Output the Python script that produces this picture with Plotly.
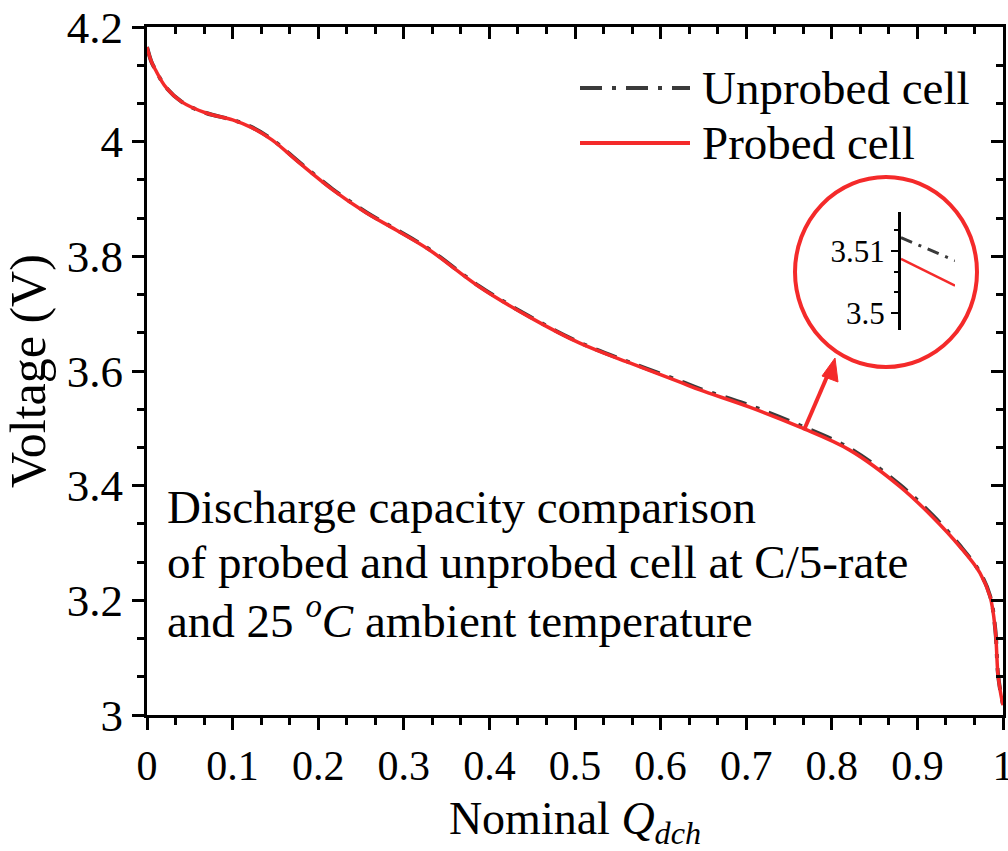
import plotly.graph_objects as go

# ---- data ----
q_probed = [0.0, 0.005, 0.01, 0.022, 0.041, 0.069, 0.1, 0.123, 0.146, 0.178, 0.217, 0.256,
            0.291, 0.33, 0.388, 0.447, 0.505, 0.564, 0.622, 0.646, 0.704, 0.763, 0.821,
            0.88, 0.918, 0.95, 0.973, 0.985, 0.991, 0.994, 0.997, 1.0]
v_probed = [4.165, 4.14, 4.125, 4.095, 4.069, 4.05, 4.038, 4.024, 4.003, 3.963, 3.916, 3.876,
            3.846, 3.811, 3.747, 3.694, 3.649, 3.614, 3.581, 3.567, 3.537, 3.502, 3.462,
            3.398, 3.345, 3.293, 3.248, 3.206, 3.148, 3.073, 3.04, 3.017]

q_unprobed = [0.0, 0.005, 0.01, 0.022, 0.041, 0.069, 0.1, 0.123, 0.146, 0.178, 0.217, 0.256,
              0.291, 0.33, 0.388, 0.447, 0.505, 0.564, 0.622, 0.646, 0.704, 0.763, 0.821,
              0.88, 0.918, 0.95, 0.973, 0.985, 0.991, 0.994, 0.997, 1.0]
v_unprobed = [4.165, 4.14, 4.125, 4.095, 4.069, 4.05, 4.038, 4.025, 4.004, 3.964, 3.917, 3.877,
              3.847, 3.812, 3.748, 3.695, 3.650, 3.615, 3.583, 3.569, 3.540, 3.505, 3.465,
              3.401, 3.348, 3.295, 3.249, 3.207, 3.149, 3.074, 3.041, 3.018]

# inset (zoomed) segment
inset_x = [0.0, 1.0]
inset_unprobed = [3.5121, 3.5084]
inset_probed = [3.5087, 3.5044]

x_ticks = [0, 0.1, 0.2, 0.3, 0.4, 0.5, 0.6, 0.7, 0.8, 0.9, 1]
x_ticktext = ["0", "0.1", "0.2", "0.3", "0.4", "0.5", "0.6", "0.7", "0.8", "0.9", "1"]
y_ticks = [3.0, 3.2, 3.4, 3.6, 3.8, 4.0, 4.2]
y_ticktext = ["3", "3.2", "3.4", "3.6", "3.8", "4", "4.2"]
inset_yticks = [3.50, 3.51]
inset_yticktext = ["3.5", "3.51"]

legend_names = ["Unprobed cell", "Probed cell"]
note_lines = ["Discharge capacity comparison",
              "of probed and unprobed cell at C/5-rate",
              "and 25 <sup><i>o</i></sup><i>C</i> ambient temperature"]

FONT = "Liberation Serif"
RED = "#f42a2a"
DARK = "#3a3a3a"
DASHDOT = "22px,10px,4px,10px"

fig = go.Figure()
fig.add_trace(go.Scatter(x=q_unprobed, y=v_unprobed, mode="lines", name=legend_names[0],
                         line=dict(color=DARK, width=4, dash=DASHDOT, shape="spline"),
                         showlegend=False))
fig.add_trace(go.Scatter(x=q_probed, y=v_probed, mode="lines", name=legend_names[1],
                         line=dict(color=RED, width=3.5, shape="spline"), showlegend=False))
# inset traces
fig.add_trace(go.Scatter(x=inset_x, y=inset_unprobed, mode="lines", xaxis="x3", yaxis="y3",
                         line=dict(color=DARK, width=3, dash="12px,7px,3px,7px"), showlegend=False))
fig.add_trace(go.Scatter(x=inset_x, y=inset_probed, mode="lines", xaxis="x3", yaxis="y3",
                         line=dict(color=RED, width=2.5), showlegend=False))

axis_common = dict(showline=True, linecolor="black", linewidth=3, showgrid=False, zeroline=False,
                   tickcolor="black", tickwidth=3, automargin=False)

fig.update_layout(
    width=1008, height=851,
    margin=dict(l=147, r=5, t=27, b=136, autoexpand=False),
    paper_bgcolor="white", plot_bgcolor="white",
    font=dict(family=FONT, color="black"),
    xaxis=dict(range=[0, 1], tickvals=x_ticks, ticktext=x_ticktext, ticks="outside", ticklen=12,
               tickfont=dict(size=42, family=FONT), ticklabeloverflow="allow",
               minor=dict(dtick=0.1 / 3, tick0=0, ticks="outside", ticklen=7, tickwidth=3, tickcolor="black"),
               title=dict(text="Nominal <i>Q<sub>dch</sub></i>", font=dict(size=46, family=FONT), standoff=14),
               **axis_common),
    yaxis=dict(range=[3, 4.2], tickvals=y_ticks, ticktext=y_ticktext, ticks="outside", ticklen=12,
               tickfont=dict(size=45, family=FONT),
               minor=dict(dtick=0.2 / 3, tick0=3, ticks="outside", ticklen=7, tickwidth=3, tickcolor="black"),
               title=dict(text="Voltage (V)", font=dict(size=50, family=FONT), standoff=8),
               **axis_common),
    xaxis2=dict(range=[0, 1], overlaying="x", side="top", anchor="y", tickvals=x_ticks,
                showticklabels=False, ticks="inside", ticklen=12,
                minor=dict(dtick=0.1 / 3, tick0=0, ticks="inside", ticklen=7, tickwidth=3, tickcolor="black"),
                **axis_common),
    yaxis2=dict(range=[3, 4.2], overlaying="y", side="right", anchor="x", tickvals=y_ticks,
                showticklabels=False, ticks="inside", ticklen=12,
                minor=dict(dtick=0.2 / 3, tick0=3, ticks="inside", ticklen=7, tickwidth=3, tickcolor="black"),
                **axis_common),
    xaxis3=dict(domain=[0.8808, 0.944], range=[0, 1], anchor="y3", visible=False),
    yaxis3=dict(domain=[0.5596, 0.7311], range=[3.4973, 3.5162], anchor="x3",
                tickvals=inset_yticks, ticktext=inset_yticktext, ticks="outside", ticklen=7,
                tickfont=dict(size=31, family=FONT),
                minor=dict(dtick=0.01 / 3, tick0=3.5, ticks="outside", ticklen=4, tickwidth=2, tickcolor="black"),
                showline=True, linecolor="black", linewidth=3, showgrid=False, zeroline=False,
                tickcolor="black", tickwidth=2, automargin=False),
)

# dummy trace so overlay axes draw
fig.add_trace(go.Scatter(x=[None], y=[None], xaxis="x2", yaxis="y2", showlegend=False, hoverinfo="skip"))

W, H, L, B, T, R = 1008, 851, 147, 136, 27, 5
pw, ph = W - L - R, H - T - B


def px(xp):
    return (xp - L) / pw


def py(yp):
    return (H - B - yp) / ph


# legend drawn manually
fig.add_shape(type="line", xref="paper", yref="paper", x0=px(580), x1=px(690), y0=py(88), y1=py(88),
              line=dict(color=DARK, width=4, dash=DASHDOT))
fig.add_shape(type="line", xref="paper", yref="paper", x0=px(580), x1=px(690), y0=py(143), y1=py(143),
              line=dict(color=RED, width=4))
fig.add_annotation(text=legend_names[0], xref="paper", yref="paper", x=px(700), y=py(88),
                   xanchor="left", yanchor="middle", showarrow=False, font=dict(size=47, family=FONT))
fig.add_annotation(text=legend_names[1], xref="paper", yref="paper", x=px(700), y=py(143),
                   xanchor="left", yanchor="middle", showarrow=False, font=dict(size=47, family=FONT))

# description text
for i, line in enumerate(note_lines):
    fig.add_annotation(text=line, xref="paper", yref="paper", x=px(165), y=py(507 + 55 * i),
                       xanchor="left", yanchor="middle", showarrow=False, font=dict(size=47, family=FONT))

# magnifier circle
fig.add_shape(type="circle", xref="paper", yref="paper", x0=px(795), x1=px(977), y0=py(367), y1=py(177),
              line=dict(color=RED, width=4))

# arrow from curve to circle: shaft + filled head
tip = (835, 358)
tail = (804, 430)
fig.add_shape(type="line", xref="paper", yref="paper", x0=px(tail[0]), y0=py(tail[1]),
              x1=px(829), y1=py(372), line=dict(color=RED, width=4))
fig.add_shape(type="path", xref="paper", yref="paper",
              path="M {} {} L {} {} L {} {} Z".format(px(tip[0]), py(tip[1]), px(822), py(376), px(838), py(382)),
              fillcolor=RED, line=dict(color=RED, width=1))

fig.write_html("out.html")
